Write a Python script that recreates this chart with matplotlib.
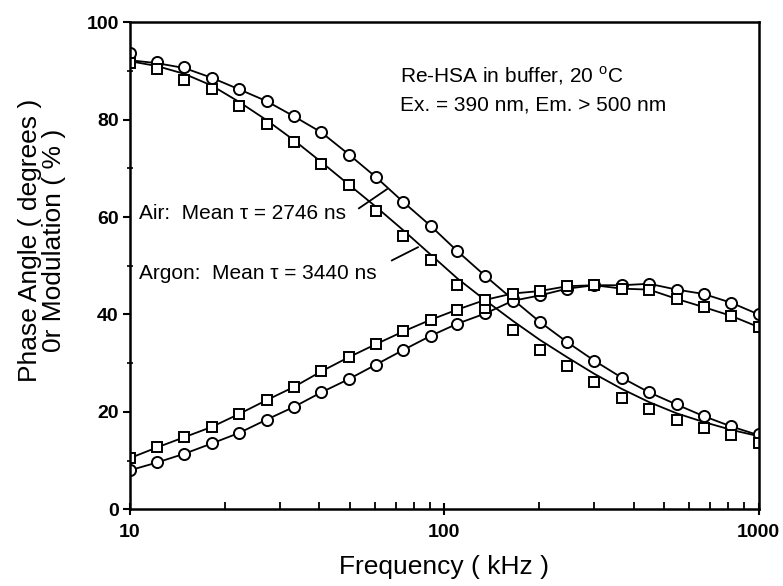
import numpy as np
import matplotlib.pyplot as plt
import matplotlib as mpl
from matplotlib.ticker import FixedLocator, NullFormatter

# frequencies (kHz), log-spaced
FREQ = [10, 12.2, 14.9, 18.2, 22.3, 27.2, 33.2, 40.6, 49.6, 60.6, 74.0, 90.4,
        110, 135, 165, 201, 246, 300, 367, 448, 548, 669, 818, 1000]

# Air (circles)
AIR_MOD = [93.6, 91.8, 90.8, 88.6, 86.2, 83.8, 80.7, 77.4, 72.7, 68.2, 63.1, 58.2,
           53.0, 47.9, 43.1, 38.5, 34.3, 30.5, 27.0, 24.0, 21.6, 19.1, 17.0, 15.4]
AIR_PHASE = [8.0, 9.6, 11.4, 13.5, 15.7, 18.4, 21.0, 24.0, 26.7, 29.7, 32.7, 35.6,
             38.1, 40.2, 42.8, 43.9, 45.3, 46.0, 46.0, 46.3, 45.1, 44.2, 42.4, 40.0]
AIR_MOD_FIT = [92.2, 91.6, 90.6, 88.6, 86.2, 83.8, 80.7, 77.4, 72.9, 68.2, 63.1, 58.2,
               53.0, 47.9, 43.1, 38.5, 34.3, 30.5, 27.0, 24.0, 21.5, 19.1, 17.0, 15.2]

# Argon (squares)
ARGON_MOD = [91.6, 90.5, 88.1, 86.2, 82.8, 79.1, 75.4, 70.8, 66.5, 61.3, 56.2, 51.1,
             46.0, 41.3, 36.8, 32.8, 29.5, 26.1, 22.8, 20.5, 18.3, 16.6, 15.2, 13.5]
ARGON_PHASE = [10.5, 12.7, 14.8, 16.9, 19.6, 22.4, 25.1, 28.3, 31.2, 33.9, 36.5, 38.9,
               41.0, 43.0, 44.3, 44.8, 45.8, 46.0, 45.3, 45.1, 43.2, 41.5, 39.7, 37.4]
ARGON_MOD_FIT = [92.0, 91.0, 89.4, 87.0, 83.6, 79.9, 75.8, 71.3, 66.7, 62.1, 57.3, 52.3,
                 47.4, 42.9, 38.7, 34.8, 31.2, 27.8, 24.7, 22.0, 19.7, 17.9, 16.3, 15.0]

mpl.rcParams.update({
    "font.family": ["Liberation Sans", "DejaVu Sans"],
})

fig = plt.figure(figsize=(7.83, 5.86), dpi=100)
ax = fig.add_axes([0.166, 0.131, 0.803, 0.831])

lw = 1.3
ax.plot(FREQ, AIR_MOD_FIT, color="black", lw=lw)
ax.plot(FREQ, AIR_PHASE, color="black", lw=lw)
ax.plot(FREQ, ARGON_MOD_FIT, color="black", lw=lw)
ax.plot(FREQ, ARGON_PHASE, color="black", lw=lw)

ax.plot(FREQ, AIR_MOD, ls="none", marker="o", ms=8, mfc="white", mec="black", mew=1.4)
ax.plot(FREQ, AIR_PHASE, ls="none", marker="o", ms=8, mfc="white", mec="black", mew=1.4)
ax.plot(FREQ, ARGON_MOD, ls="none", marker="s", ms=7, mfc="white", mec="black", mew=1.4)
ax.plot(FREQ, ARGON_PHASE, ls="none", marker="s", ms=7, mfc="white", mec="black", mew=1.4)

ax.set_xscale("log")
ax.set_xlim(10, 1000)
ax.set_ylim(0, 100)

ax.xaxis.set_major_locator(FixedLocator([10, 100, 1000]))
ax.set_xticklabels(["10", "100", "1000"])
minors = [m * d for d in (10, 100) for m in range(2, 10)]
ax.xaxis.set_minor_locator(FixedLocator(minors))
ax.xaxis.set_minor_formatter(NullFormatter())
ax.set_yticks([0, 20, 40, 60, 80, 100])
ax.set_yticks(range(10, 100, 20), minor=True)

ax.tick_params(axis="x", which="major", direction="inout", length=9, width=1.5,
               labelsize=14, pad=6)
ax.tick_params(axis="x", which="minor", direction="in", length=5, width=1.3)
ax.tick_params(axis="y", which="major", direction="out", length=5, width=1.5,
               labelsize=14, pad=3)
ax.tick_params(axis="y", which="minor", direction="inout", length=5, width=1.2)
for lab in ax.get_xticklabels() + ax.get_yticklabels():
    lab.set_fontweight("bold")

for sp in ax.spines.values():
    sp.set_linewidth(1.8)

ax.set_xlabel("Frequency ( kHz )", fontsize=19, labelpad=10)
ax.set_ylabel("Phase Angle ( degrees )\n0r Modulation ( % )", fontsize=19,
              linespacing=1.0)
ax.yaxis.set_label_coords(-0.102, 0.552)

ax.text(72.2, 89.1, "Re-HSA in buffer, 20 $^{\\mathregular{o}}$C", fontsize=15,
        va="center", ha="left")
ax.text(72.2, 83.0, "Ex. = 390 nm, Em. > 500 nm", fontsize=15, va="center", ha="left")

ax.text(10.7, 60.8, "Air:  Mean \u03c4 = 2746 ns", fontsize=15, va="center", ha="left")
ax.plot([53.5, 65.6], [61.8, 65.7], color="black", lw=1.3)
ax.text(10.7, 48.5, "Argon:  Mean \u03c4 = 3440 ns", fontsize=15, va="center", ha="left")
ax.plot([68.1, 82.4], [51.1, 53.8], color="black", lw=1.3)

fig.savefig("out.png", dpi=100)
